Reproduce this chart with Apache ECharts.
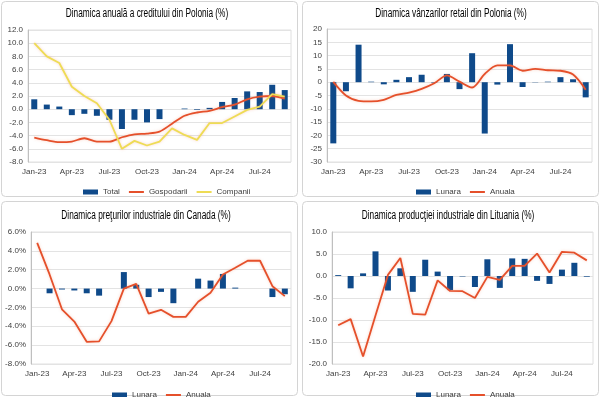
<!DOCTYPE html>
<html>
<head>
<meta charset="utf-8">
<script src="https://cdn.jsdelivr.net/npm/echarts@6/dist/echarts.min.js"></script>
<style>
html,body{margin:0;padding:0;background:#fff}
#main{width:600px;height:397px}
</style>
</head>
<body>
<div id="main"></div>
<script>
// categorii lunare
const months = ['Jan-23','Feb-23','Mar-23','Apr-23','May-23','Jun-23','Jul-23','Aug-23','Sep-23','Oct-23','Nov-23','Dec-23',
  'Jan-24','Feb-24','Mar-24','Apr-24','May-24','Jun-24','Jul-24','Aug-24','Sep-24'];

// credit Polonia
const creditTotal = [1.5,0.7,0.4,-0.9,-0.7,-1.0,-1.6,-3.0,-1.6,-2.0,-1.5,0,0.1,-0.1,0.2,1.1,1.7,2.7,2.6,3.7,2.9];
const creditGospodarii = [-4.3,-4.7,-5.0,-4.9,-4.4,-4.9,-4.9,-4.25,-3.8,-3.7,-3.4,-2.2,-1.0,-0.5,-0.25,0.3,0.7,1.5,1.9,2.0,1.6];
const creditCompanii = [10.0,8.0,7.0,3.4,2.0,0.9,-1.6,-6.0,-4.8,-5.5,-4.9,-2.9,-3.9,-4.65,-2.1,-2.1,-1.1,-0.1,0.4,2.3,1.9];

// retail Polonia
const retailLunara = [-23.0,-3.4,14.1,0.2,-0.8,0.9,1.9,2.8,-0.2,3.1,-2.6,10.9,-19.3,-0.9,14.3,-1.8,-0.1,0.2,1.9,1.1,-5.7];
const retailAnuala = [0.1,-5.0,-7.0,-7.2,-6.6,-4.8,-3.9,-2.5,-0.4,2.6,0.2,-2.0,3.1,6.3,6.3,4.3,5.0,4.5,4.3,2.9,-2.8];

// preturi industriale Canada
const canadaLunara = [0,-0.5,-0.1,-0.2,-0.5,-0.75,0,1.75,0.4,-0.9,-0.35,-1.55,0,1.05,0.85,1.55,0.1,0,0,-0.9,-0.6];
const canadaAnuala = [4.85,1.5,-2.2,-3.5,-5.65,-5.6,-3.45,0.0,0.5,-2.65,-2.25,-3.0,-3.0,-1.4,-0.45,1.5,2.2,2.95,2.95,0.25,-0.8];

// productie industriala Lituania
const lituaniaLunara = [0.2,-2.8,0.6,5.6,-3.3,1.75,-3.6,3.7,1.0,-3.2,-0.1,-2.5,3.8,-2.7,4.0,3.9,-1.1,-1.8,1.45,3.0,-0.15];
const lituaniaAnuala = [-11.2,-9.8,-18.3,-9.0,0.25,4.1,-8.6,-8.8,-1.0,-3.4,-3.45,-5.0,-0.2,-0.9,2.3,2.3,5.1,0.8,5.5,5.3,3.55];

const BLUE = '#0f4a8a';
const RED = '#e5502b';
const YELLOW = '#eedc55';
const labelFont = 'Liberation Sans, Arial, sans-serif';

const grids = [
  {left: 28, top: 30, width: 263, height: 132},
  {left: 327, top: 29, width: 265, height: 133},
  {left: 31, top: 232, width: 260, height: 132},
  {left: 332, top: 232, width: 261, height: 132}
];

function xAx(i) {
  return {
    type: 'category', gridIndex: i, data: months, boundaryGap: true,
    axisLine: {show: false}, axisTick: {show: false},
    axisLabel: {interval: 2, fontSize: 8, color: '#404040', fontFamily: labelFont, margin: 6}
  };
}
function yAx(i, min, max, step, fmt) {
  return {
    type: 'value', gridIndex: i, min: min, max: max, interval: step,
    axisLine: {show: true, lineStyle: {color: '#bfbfbf'}}, axisTick: {show: false},
    splitLine: {lineStyle: {color: '#e3e3e3'}},
    axisLabel: {fontSize: 8, color: '#404040', fontFamily: labelFont, margin: 5, formatter: fmt}
  };
}
function bar(name, i, data) {
  return {name: name, type: 'bar', xAxisIndex: i, yAxisIndex: i, data: data,
    barWidth: 6, itemStyle: {color: BLUE}};
}
function line(name, i, data, color, smooth) {
  return {name: name, type: 'line', xAxisIndex: i, yAxisIndex: i, data: data,
    symbol: 'none', smooth: smooth, color: color,
    lineStyle: {width: 1.8, color: color, shadowColor: 'rgba(240,130,90,0.35)', shadowBlur: 3}};
}
// titlu ingust (font condensat simulat)
function title(text, x, y) {
  return {type: 'text', x: x, y: y, scaleX: 0.69, silent: true,
    style: {text: text, fill: '#000', font: 'normal 12px "Liberation Sans", Arial, sans-serif',
      textAlign: 'center', textVerticalAlign: 'middle'}};
}
function legend(names, x, y) {
  return {left: x, top: y, itemWidth: 15, itemHeight: 5, itemGap: 8,
    textStyle: {fontSize: 8, color: '#404040', fontFamily: labelFont},
    data: names.map(n => n === 'Total' || n === 'Lunara'
      ? {name: n, icon: 'rect'}
      : {name: n, itemStyle: {opacity: 0}})};
}
function box(x, y, w, h) {
  return {type: 'rect', shape: {x: x, y: y, width: w, height: h, r: 4}, silent: true,
    style: {fill: 'none', stroke: '#d4d4d4', lineWidth: 1}};
}

const fmt1 = v => v.toFixed(1);
const fmtPct = v => v.toFixed(1) + '%';

const chart = echarts.init(document.getElementById('main'));
chart.setOption({
  animation: false,
  backgroundColor: '#fff',
  graphic: [
    box(1.5, 1.5, 296, 195), box(302.5, 1.5, 296, 195), box(1.5, 201.5, 296, 194), box(302.5, 201.5, 296, 194),
    title('Dinamica anuală a creditului din Polonia (%)', 147, 14),
    title('Dinamica vânzarilor retail din Polonia (%)', 451, 14),
    title('Dinamica preţurilor industriale din Canada (%)', 146, 216),
    title('Dinamica producţiei industriale din Lituania (%)', 448, 216)
  ],
  legend: [
    legend(['Total', 'Gospodarii', 'Companii'], 78, 183),
    legend(['Lunara', 'Anuala'], 411, 183),
    legend(['Lunara', 'Anuala'], 107, 386),
    legend(['Lunara', 'Anuala'], 411, 386)
  ],
  grid: grids.map(g => Object.assign({show: true, borderColor: '#e0e0e0', borderWidth: 1, backgroundColor: 'transparent'}, g)),
  xAxis: [xAx(0), xAx(1), xAx(2), xAx(3)],
  yAxis: [
    yAx(0, -8, 12, 2, fmt1),
    yAx(1, -30, 20, 5, v => String(v)),
    yAx(2, -8, 6, 2, fmtPct),
    yAx(3, -20, 10, 5, fmt1)
  ],
  series: [
    bar('Total', 0, creditTotal),
    line('Gospodarii', 0, creditGospodarii, RED, 0.3),
    line('Companii', 0, creditCompanii, YELLOW, false),
    bar('Lunara', 1, retailLunara),
    line('Anuala', 1, retailAnuala, RED, 0.3),
    bar('Lunara', 2, canadaLunara),
    line('Anuala', 2, canadaAnuala, RED, false),
    bar('Lunara', 3, lituaniaLunara),
    line('Anuala', 3, lituaniaAnuala, RED, false)
  ]
});
</script>
</body>
</html>
